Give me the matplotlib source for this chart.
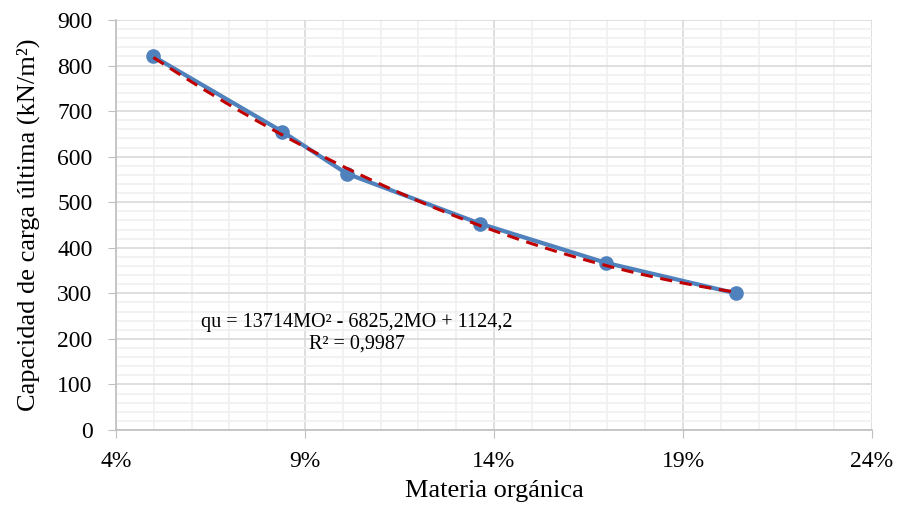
import numpy as np
import matplotlib.pyplot as plt
from matplotlib.ticker import MultipleLocator, FuncFormatter

# materia organica (fraction) vs capacidad de carga ultima (kN/m2)
mo = [0.0499, 0.0840, 0.1010, 0.1363, 0.1696, 0.2040]
qu = [820, 655, 563, 453, 367, 300]
# polynomial trend shown on the chart
coef = [13714, -6825.2, 1124.2]
eq_text = "qu = 13714MO² - 6825,2MO + 1124,2\nR² = 0,9987"
x_ticks = [0.04, 0.09, 0.14, 0.19, 0.24]

plt.rcParams['font.family'] = ['Liberation Serif', 'DejaVu Serif']

fig = plt.figure(figsize=(8.97, 5.08), dpi=100)
ax = fig.add_axes([116 / 897, 78 / 508, (872 - 116) / 897, (430 - 20) / 508])

ax.plot(mo, qu, color='#4F81BD', lw=3, marker='o', ms=9.5, zorder=3)
xt = np.linspace(mo[0], mo[-1], 200)
ax.plot(xt, np.polyval(coef, xt), color='#C00000', lw=2.2, ls=(0, (4, 2.5)), zorder=4)

ax.set_xlim(0.04, 0.24)
ax.set_ylim(0, 900)
ax.set_xticks(x_ticks)
ax.set_xticks(np.arange(0.04, 0.2401, 0.01), minor=True)
ax.yaxis.set_major_locator(MultipleLocator(100))
ax.yaxis.set_minor_locator(MultipleLocator(20))
ax.xaxis.set_major_formatter(FuncFormatter(lambda v, p: f"{v*100:.0f}%"))

ax.grid(which='major', color='#D9D9D9', lw=1.2, zorder=0)
ax.grid(which='minor', color='#F0F0F0', lw=1.2, zorder=0)
ax.set_axisbelow(True)
for s in ['top', 'right']:
    ax.spines[s].set_visible(False)
for s in ['left', 'bottom']:
    ax.spines[s].set_color('#BFBFBF')
    ax.spines[s].set_linewidth(1.2)
ax.tick_params(which='major', length=6, color='#BFBFBF', labelsize=17)
ax.tick_params(axis='y', pad=11)
ax.tick_params(axis='x', pad=9)
ax.tick_params(which='minor', length=0)

ax.set_xlabel("Materia orgánica", fontsize=19, labelpad=6)
ax.set_ylabel("Capacidad de carga última (kN/m²)", fontsize=19, labelpad=12)

ax.text(0.1038, 212, eq_text, ha='center', va='center', fontsize=14.5, linespacing=1.15)

plt.savefig('out.png', dpi=100)
